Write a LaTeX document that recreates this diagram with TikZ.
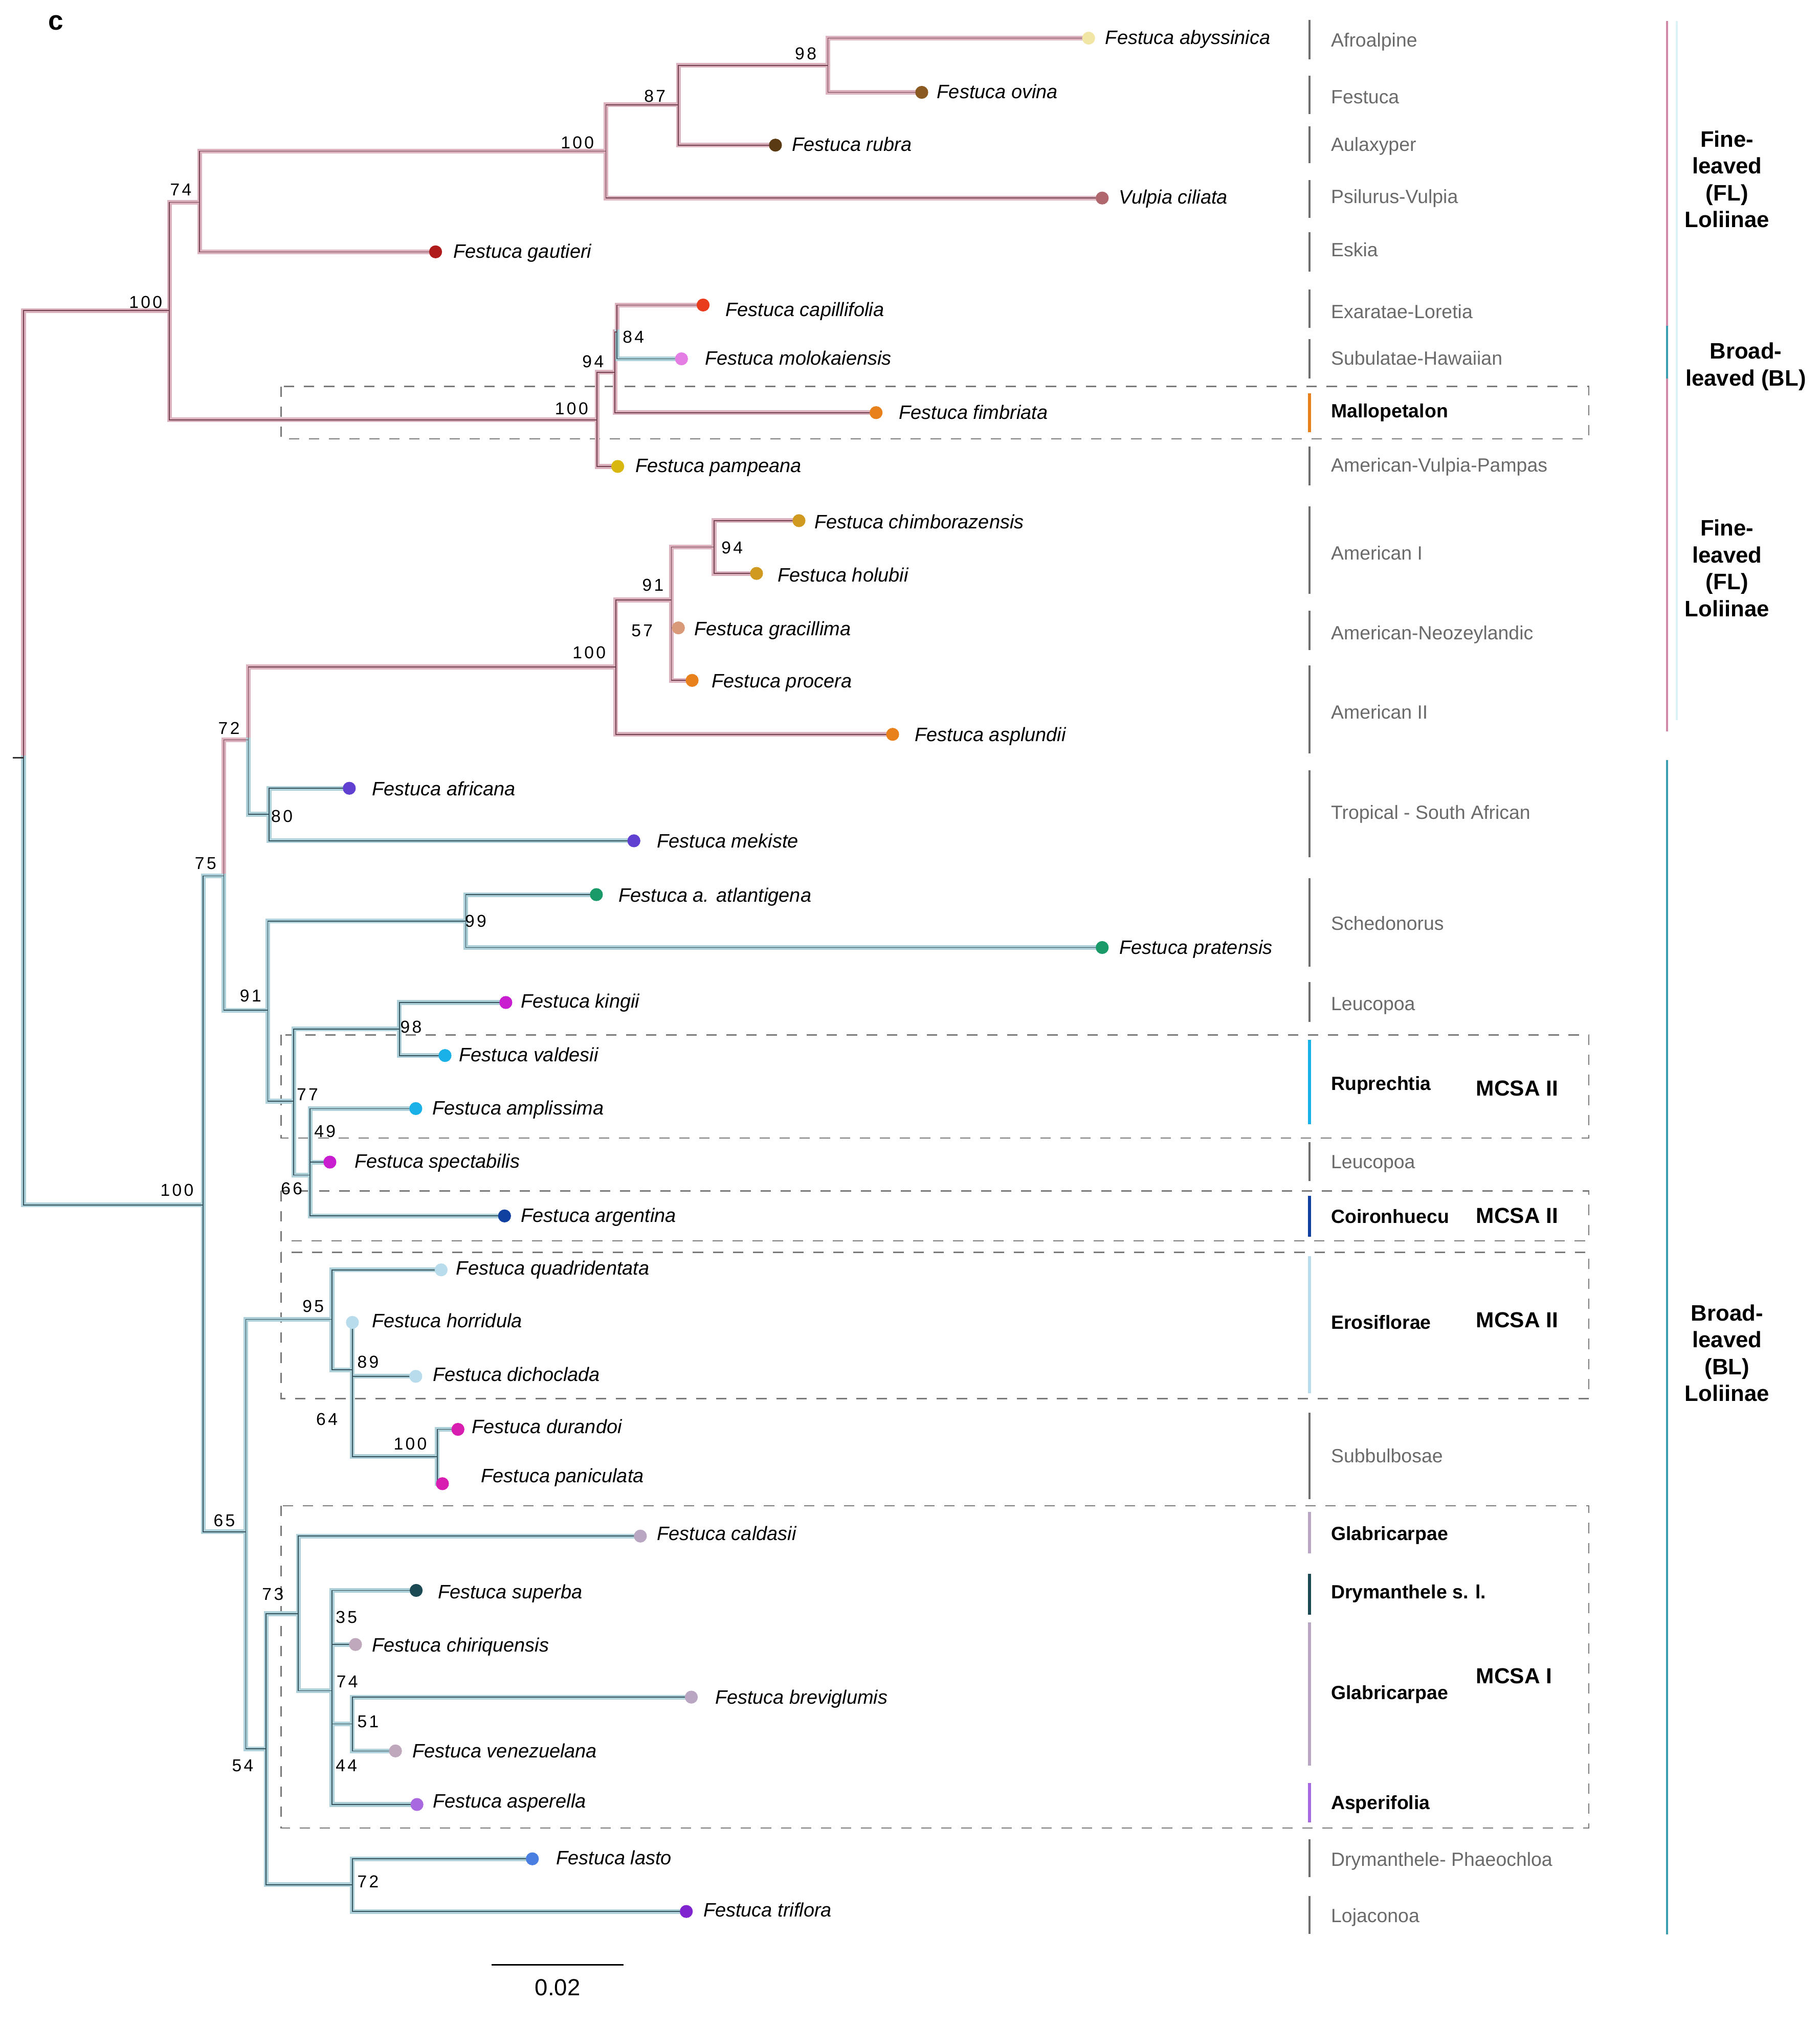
\documentclass[tikz,border=0pt]{standalone}
\usepackage{fontspec}
\setmainfont{Liberation Sans}
\newfontfamily\bsfont[LetterSpace=13]{Liberation Sans}
\definecolor{FLh}{HTML}{DDB2BF}
\definecolor{FLc}{HTML}{74404F}
\definecolor{BLh}{HTML}{ADD0D9}
\definecolor{BLc}{HTML}{35535D}
\definecolor{RegGray}{HTML}{6A6A6A}
\definecolor{SegGray}{HTML}{6E6E6E}
\definecolor{BoxGray}{HTML}{7A7A7A}
\definecolor{GrpPink}{HTML}{D08AA8}
\definecolor{GrpTeal}{HTML}{3A9EAE}
\definecolor{GrpFaint}{HTML}{DDF2F6}
\definecolor{cAby}{HTML}{F2E6A6}
\definecolor{cOvi}{HTML}{8B5A22}
\definecolor{cRub}{HTML}{5A3A12}
\definecolor{cVul}{HTML}{B0686E}
\definecolor{cGau}{HTML}{B01C1C}
\definecolor{cCap}{HTML}{E83C1C}
\definecolor{cMol}{HTML}{E47EE4}
\definecolor{cOra}{HTML}{E8801C}
\definecolor{cPam}{HTML}{D8B810}
\definecolor{cGold}{HTML}{D09A20}
\definecolor{cGra}{HTML}{D89A78}
\definecolor{cAfr}{HTML}{6040D0}
\definecolor{cGrn}{HTML}{1A9A68}
\definecolor{cMag}{HTML}{C81ED0}
\definecolor{cSky}{HTML}{1AB0E8}
\definecolor{cNavy}{HTML}{1040A0}
\definecolor{cLtb}{HTML}{B8DCEC}
\definecolor{cPink}{HTML}{D81EB0}
\definecolor{cGlab}{HTML}{B8A6C2}
\definecolor{cSup}{HTML}{1C4A54}
\definecolor{cChi}{HTML}{C0A8BC}
\definecolor{cAsp}{HTML}{A868E0}
\definecolor{cLas}{HTML}{4A7EE0}
\definecolor{cTri}{HTML}{8024D0}

\newcommand\drawtreeedges[2]{%
  \foreach \p/\q in {root/nFL, nFL/nA74, nFL/nB100, nA74/nA100, nA74/tGau,
    nA100/nA87, nA100/tVul, nA87/nA98, nA87/tRub, nA98/tAby, nA98/tOvi,
    nB100/nB94, nB100/tPam, nB94/nB84, nB94/tFim, nB84/tCap,
    nC75/nC72, nC72/nC100, nC100/nC91, nC100/tAsp, nC91/nC94, nC91/nC57,
    nC94/tChi, nC94/tHol, nC57/tGcl, nC57/tPro}{\draw[#1] (\p) |- (\q);}
  \foreach \p/\q in {nB84/tMol, root/nBL, nBL/nC75, nBL/nE65, nC75/nD91,
    nC72/nC80, nC80/tAfr, nC80/tMek, nD91/nD99, nD91/nD77, nD99/tAtl, nD99/tPra,
    nD77/nD98, nD77/nD66, nD98/tKin, nD98/tVal, nD66/nD49, nD66/tArg,
    nD49/tAmp, nD49/tSpe, nE65/nE95, nE65/nE54, nE95/tQua, nE95/nE64,
    nE64/tHor, nE64/tDic, nE64/nE100, nE100/tDur, nE100/tPan,
    nE54/nE73, nE54/nE72, nE73/tCal, nE73/nE74, nE74/tSup, nE74/tChq,
    nE74/nE51, nE74/tAsl, nE51/tBre, nE51/tVen, nE72/tLas, nE72/tTri}{\draw[#2] (\p) |- (\q);}
}

\def\tiplist{Aby/841.5/29.5/cAby/854.2/29.5/Festuca abyssinica,
 Ovi/712.5/71.4/cOvi/724.1/71.4/Festuca ovina,
 Rub/599.4/112.2/cRub/612.1/112.2/Festuca rubra,
 Vul/852/153.1/cVul/864.8/153.1/Vulpia ciliata,
 Gau/336.7/194.7/cGau/350.3/194.7/Festuca gautieri,
 Cap/543.5/235.8/cCap/560.7/240/Festuca capillifolia,
 Mol/526.8/277.4/cMol/544.7/277.4/Festuca molokaiensis,
 Fim/677.2/319/cOra/694.7/319.3/Festuca fimbriata,
 Pam/477.5/360.6/cPam/491/360.6/Festuca pampeana,
 Chi/617.6/402.5/cGold/629.5/404/Festuca chimborazensis,
 Hol/584.8/443.3/cGold/601/445/Festuca holubii,
 Gcl/524.4/485.4/cGra/536.6/486.5/Festuca gracillima,
 Pro/535/526/cOra/550/527/Festuca procera,
 Asp/690/567.7/cOra/707/568.5/Festuca asplundii,
 Afr/270/609.4/cAfr/287.5/610.3/Festuca africana,
 Mek/490/650/cAfr/507.7/650.8/Festuca mekiste,
 Atl/461/691.6/cGrn/478/692.5/Festuca a. atlantigena,
 Pra/852/732.5/cGrn/865/733/Festuca pratensis,
 Kin/391/775/cMag/402.5/774.5/Festuca kingii,
 Val/344/816/cSky/354.7/816/Festuca valdesii,
 Amp/321.4/857/cSky/334/857/Festuca amplissima,
 Spe/255/898.4/cMag/274/898.4/Festuca spectabilis,
 Arg/390/940/cNavy/402.5/940/Festuca argentina,
 Qua/341/981.7/cLtb/352.5/980.8/Festuca quadridentata,
 Hor/272.4/1022.3/cLtb/287.5/1021.5/Festuca horridula,
 Dic/321.4/1064/cLtb/334.4/1063.2/Festuca dichoclada,
 Dur/354/1105/cPink/364.6/1103.5/Festuca durandoi,
 Pan/342/1147/cPink/371.6/1141.4/Festuca paniculata,
 Cal/495/1187.5/cGlab/507.7/1186/Festuca caldasii,
 Sup/321.7/1229.5/cSup/338.3/1231/Festuca superba,
 Chq/274.8/1271.3/cChi/287.5/1272.5/Festuca chiriquensis,
 Bre/534.4/1312/cGlab/552.6/1312.8/Festuca breviglumis,
 Ven/305.7/1353.6/cChi/318.7/1354/Festuca venezuelana,
 Asl/322.3/1395/cAsp/334.4/1393/Festuca asperella,
 Las/411.5/1437/cLas/429.7/1437/Festuca lasto,
 Tri/530.5/1477.7/cTri/543.5/1477/Festuca triflora}

\begin{document}
\begin{tikzpicture}[x=1pt,y=-1pt,line cap=rect,
  flhalo/.style={draw=FLh,line width=3.6pt},
  blhalo/.style={draw=BLh,line width=3.6pt},
  flcore/.style={draw=FLc,line width=0.65pt},
  blcore/.style={draw=BLc,line width=0.65pt},
  tipdot/.style={circle,inner sep=0pt,minimum size=10pt,draw=none},
  taxon/.style={anchor=mid west,inner sep=0pt,yshift=-2pt,font=\fontsize{15}{18}\selectfont\itshape},
  bootlab/.style={inner sep=0pt,font=\bsfont\fontsize{13.3}{15}\selectfont},
  reglab/.style={anchor=mid west,inner sep=0pt,yshift=-2pt,text=RegGray,font=\fontsize{14.8}{18}\selectfont},
  reglabb/.style={anchor=mid west,inner sep=0pt,yshift=-2pt,font=\bfseries\fontsize{14.8}{18}\selectfont},
  grouplab/.style={align=center,inner sep=0pt,font=\bfseries\fontsize{17.3}{20.8}\selectfont},
  mcsa/.style={anchor=mid west,inner sep=0pt,yshift=-2pt,font=\bfseries\fontsize{16.8}{20}\selectfont},
  dbox/.style={draw=BoxGray,dash pattern=on 8pt off 7.5pt,line width=1pt,line cap=butt},
  grpline/.style={line width=1.5pt,line cap=butt}]
\useasboundingbox (0,0) rectangle (1406.5,1567.8);

% dashed boxes
\foreach \i/\ya/\yb in {1/298.8/339.2, 2/800.1/879.8, 3/920.7/959.3, 4/968.1/1081.3, 5/1164/1413.2}
  {\draw[dbox] (217.3,\ya) rectangle (1228.2,\yb);}

% region segments and names
\foreach \i/\ya/\yb/\ly/\c/\w/\sty/\txt in {
 1/15.6/45.9/31.5/SegGray/1.4/reglab/Afroalpine,
 2/58.5/88.2/75.6/SegGray/1.4/reglab/Festuca,
 3/97.8/126/112.2/SegGray/1.4/reglab/Aulaxyper,
 4/139.2/168.5/152.6/SegGray/1.4/reglab/Psilurus-Vulpia,
 5/179.5/209.8/193.7/SegGray/1.4/reglab/Eskia,
 6/223.9/253.5/241.6/SegGray/1.4/reglab/Exaratae-Loretia,
 7/262.2/292.6/277.4/SegGray/1.4/reglab/Subulatae-Hawaiian,
 8/303.9/334.1/318.3/cOra/2.6/reglabb/Mallopetalon,
 9/345/375.3/360.1/SegGray/1.4/reglab/American-Vulpia-Pampas,
 10/391.4/459/428.2/SegGray/1.4/reglab/American I,
 11/472.3/502.6/490/SegGray/1.4/reglab/American-Neozeylandic,
 12/514.4/582.5/551.2/SegGray/1.4/reglab/American II,
 13/595.4/662.7/628.7/SegGray/1.4/reglab/Tropical - South African,
 14/679/747.2/714.4/SegGray/1.4/reglab/Schedonorus,
 15/759.3/790/776.6/SegGray/1.4/reglab/Leucopoa,
 16/803.9/869/838.3/cSky/2.6/reglabb/Ruprechtia,
 17/882.9/913.1/898.5/SegGray/1.4/reglab/Leucopoa,
 18/924.5/956/940.9/cNavy/2.6/reglabb/Coironhuecu,
 19/971.2/1077/1022.8/cLtb/2.6/reglabb/Erosiflorae,
 20/1092.3/1159/1126/SegGray/1.4/reglab/Subbulbosae,
 21/1169/1200.9/1186/cGlab/2.6/reglabb/Glabricarpae,
 22/1216.7/1248.3/1231.2/cSup/2.6/reglabb/Drymanthele s. l.,
 23/1254.3/1365/1309.2/cGlab/2.6/reglabb/Glabricarpae,
 24/1378.4/1408.9/1394.3/cAsp/2.6/reglabb/Asperifolia,
 25/1421.8/1451/1438/SegGray/1.4/reglab/Drymanthele- Phaeochloa,
 26/1465.6/1495.2/1481.4/SegGray/1.4/reglab/Lojaconoa}
 {\draw[draw=\c,line width=\w pt,line cap=butt] (1012.3,\ya) -- (1012.3,\yb);
  \node[\sty] (r\i) at (1028.7,\ly) {\txt};}

\node[mcsa] (m1) at (1140.8,842.5) {MCSA II};
\node[mcsa] (m2) at (1140.8,940.9) {MCSA II};
\node[mcsa] (m3) at (1140.8,1021.5) {MCSA II};
\node[mcsa] (m4) at (1140.8,1297) {MCSA I};

% group lines and labels
\draw[grpline,draw=GrpFaint] (1296,16.4) -- (1296,556.8);
\draw[grpline,draw=GrpPink] (1288.5,16.4) -- (1288.5,565.6);
\draw[grpline,draw=GrpTeal] (1288.5,252) -- (1288.5,292.6);
\draw[grpline,draw=GrpTeal] (1288.5,587.6) -- (1288.5,1495.3);
\node[grouplab] (gFL1) at (1335,138.5) {Fine-\\leaved\\(FL)\\Loliinae};
\node[grouplab] (gBL1) at (1349.5,283.5) {Broad-\\leaved (BL)};
\node[grouplab] (gFL2) at (1335,439.3) {Fine-\\leaved\\(FL)\\Loliinae};
\node[grouplab] (gBL2) at (1335,1046) {Broad-\\leaved\\(BL)\\Loliinae};

% tree internal nodes
\coordinate (root) at (18.2,585.8);
\coordinate (rootstub) at (10,585.8);
\coordinate (nFL) at (131,240.1);
\coordinate (nA74) at (154.3,156.4);
\coordinate (nA100) at (468.4,116.8);
\coordinate (nA87) at (524.4,81);
\coordinate (nA98) at (640,50.5);
\coordinate (nB100) at (461.5,324.6);
\coordinate (nB94) at (475.4,287.8);
\coordinate (nB84) at (476.9,256.6);
\coordinate (nBL) at (157,931.5);
\coordinate (nC75) at (173,677.1);
\coordinate (nC72) at (192,572);
\coordinate (nC100) at (476,515.6);
\coordinate (nC91) at (519,463.8);
\coordinate (nC94) at (552,422.9);
\coordinate (nC57) at (519,505.5);
\coordinate (nC80) at (208,629.5);
\coordinate (nD91) at (207,781);
\coordinate (nD99) at (360,712);
\coordinate (nD77) at (227,851.3);
\coordinate (nD98) at (308.7,795.5);
\coordinate (nD66) at (239.7,908.5);
\coordinate (nD49) at (239.7,877.7);
\coordinate (nE65) at (190,1184.2);
\coordinate (nE95) at (256.6,1020);
\coordinate (nE64) at (272.4,1059);
\coordinate (nE100) at (338,1126);
\coordinate (nE54) at (205.7,1352);
\coordinate (nE73) at (230.6,1247.5);
\coordinate (nE74) at (256.6,1307);
\coordinate (nE51) at (272.4,1332.7);
\coordinate (nE72) at (272.4,1457);
\foreach \n/\x/\y/\c/\lx/\ly/\txt in \tiplist {\coordinate (t\n) at (\x,\y);}

% branches: halos first, then cores
\drawtreeedges{flhalo}{blhalo}
\drawtreeedges{flcore}{blcore}
\draw[draw=black!80,line width=0.9pt,line cap=butt] (rootstub) -- (root);

% tips
\foreach \n/\x/\y/\c/\lx/\ly/\txt in \tiplist {
  \node[tipdot,fill=\c] (d\n) at (t\n) {};
  \node[taxon] (l\n) at (\lx,\ly) {\txt};}

% bootstrap values
\foreach \i/\x/\y/\t in {1/622.8/41.6/98, 2/506.2/74.4/87, 3/446.3/110.2/100,
  4/139.8/146.8/74, 5/112.6/233.8/100, 6/458.4/279.4/94, 7/489.6/260.5/84,
  8/441.8/316/100, 9/504.7/452.2/91, 10/565.9/423.6/94, 11/496.3/487.5/57,
  12/455.4/504.4/100, 13/177/563.1/72, 14/217.9/631.2/80, 15/158.9/667.3/75,
  16/367.7/711.9/99, 17/193.7/769.9/91, 18/317.7/793.9/98, 19/237.6/846.3/77,
  20/251.2/874.8/49, 21/225.5/919/66, 22/136.8/920.2/100, 23/242.1/1009.7/95,
  24/284.5/1053.1/89, 25/252.7/1097.2/64, 26/317.1/1116.1/100, 27/173.4/1175.4/65,
  28/210.9/1232.5/73, 29/267.8/1250.2/35, 30/268.4/1300/74, 31/284.5/1331/51,
  32/187.6/1365/54, 33/267.8/1365/44, 34/284.5/1454.6/72}
  {\node[bootlab] (b\i) at (\x,\y) {\t};}

% scale bar and panel letter
\coordinate (sbL) at (379.8,1519);
\coordinate (sbR) at (482,1519);
\draw[line width=1.1pt,line cap=butt] (sbL) -- (sbR);
\node[inner sep=0pt,font=\fontsize{18}{20}\selectfont] (sbT) at (431,1536.6) {0.02};
\node[inner sep=0pt,font=\bfseries\fontsize{21}{24}\selectfont] (panel) at (43.3,17.6) {c};
\end{tikzpicture}
\end{document}
